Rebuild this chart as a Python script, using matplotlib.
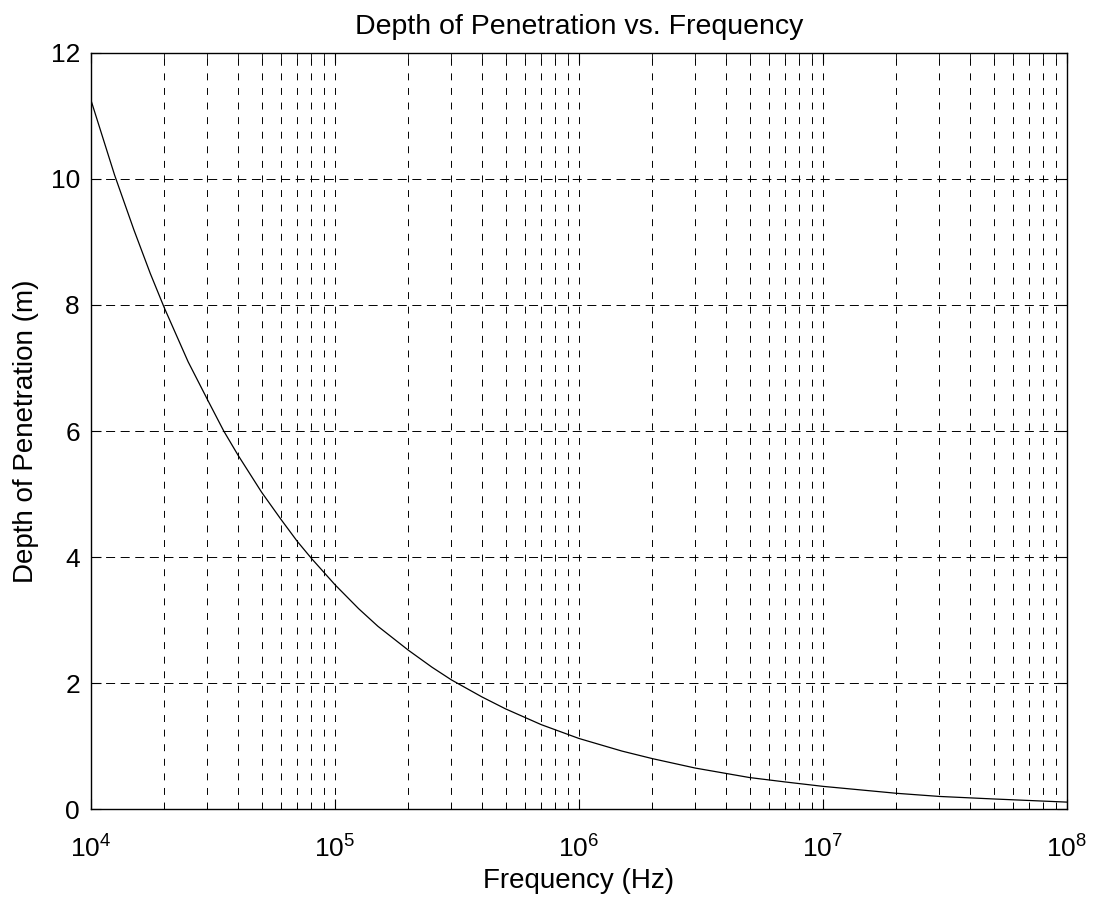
import matplotlib
matplotlib.use("Agg")
import matplotlib.pyplot as plt
from matplotlib.ticker import LogLocator, NullFormatter

plt.rcParams['font.family'] = ['Liberation Sans', 'DejaVu Sans']
plt.rcParams['lines.scale_dashes'] = False
plt.rcParams['mathtext.fontset'] = 'custom'
plt.rcParams['mathtext.rm'] = 'Liberation Sans'
plt.rcParams['mathtext.it'] = 'Liberation Sans'
plt.rcParams['mathtext.bf'] = 'Liberation Sans'

freq_hz = [1e4, 1.25e4, 1.5e4, 1.75e4, 2e4, 2.5e4, 3e4, 3.5e4, 4e4, 5e4, 6e4, 7e4, 8e4,
           1e5, 1.25e5, 1.5e5, 2e5, 2.5e5, 3e5, 4e5, 5e5, 7e5,
           1e6, 1.5e6, 2e6, 3e6, 5e6, 7e6, 1e7, 2e7, 3e7, 5e7, 1e8]
depth_m = [11.25, 10.06, 9.19, 8.5, 7.95, 7.1, 6.5, 6.0, 5.62, 5.03, 4.6, 4.25, 3.98,
           3.56, 3.18, 2.9, 2.52, 2.25, 2.05, 1.78, 1.59, 1.34,
           1.12, 0.92, 0.80, 0.65, 0.50, 0.43, 0.36, 0.25, 0.20, 0.16, 0.11]
y_ticks = [0, 2, 4, 6, 8, 10, 12]

fig = plt.figure(figsize=(10.95, 9.07), dpi=100)
ax = fig.add_axes([0.0831, 0.108, 0.8913, 0.8336])
ax.plot(freq_hz, depth_m, color='black', linewidth=0.9)
ax.set_xscale('log')
ax.set_xlim(1e4, 1e8)
ax.set_ylim(0, 12)
ax.set_yticks(y_ticks)
ax.xaxis.set_minor_locator(LogLocator(base=10, subs=range(2, 10)))
ax.xaxis.set_minor_formatter(NullFormatter())
ax.grid(True, which='both', axis='x', linestyle=(0, (5, 5.5)), color='black', linewidth=0.7)
ax.grid(True, which='major', axis='y', linestyle=(0, (6.5, 4)), color='black', linewidth=0.7)
ax.tick_params(which='both', direction='in', top=True, right=True, labelsize=19)
ax.tick_params(which='major', length=7)
ax.tick_params(which='minor', length=4)
ax.tick_params(axis='x', pad=19)
ax.tick_params(axis='y', pad=8)
for s in ax.spines.values():
    s.set_linewidth(1.0)
ax.set_title('Depth of Penetration vs. Frequency', fontsize=20.5, pad=14)
ax.set_xlabel('Frequency (Hz)', fontsize=20, labelpad=4)
ax.set_ylabel('Depth of Penetration (m)', fontsize=20, labelpad=8)
fig.savefig('out.png', dpi=100)
